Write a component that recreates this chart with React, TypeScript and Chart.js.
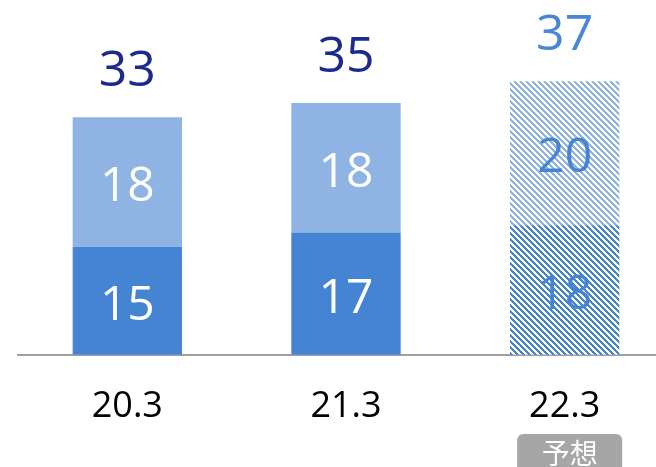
import React, { useEffect, useRef } from "react";
import { Chart, registerables } from "chart.js";

Chart.register(...registerables);

const categories = ["20.3", "21.3", "22.3"];
const lowerValues = [15, 17, 18];
const upperValues = [18, 18, 20];
const totals = [33, 35, 37];
const forecastIndex = 2;
const forecastTag = "予想";

const DARK = "#4584D3";
const LIGHT = "#8FB4E3";
const NAVY = "#1B2A8C";

function makeHatch(color: string): CanvasPattern | string {
  const c = document.createElement("canvas");
  const n = 6;
  c.width = n;
  c.height = n;
  const ctx = c.getContext("2d");
  if (!ctx) return color;
  ctx.fillStyle = "#ffffff";
  ctx.fillRect(0, 0, n, n);
  ctx.fillStyle = color;
  for (let y = 0; y < n; y++) {
    for (let x = 0; x < n; x++) {
      if ((((x - y) % n) + n) % n < 3) ctx.fillRect(x, y, 1, 1);
    }
  }
  const p = ctx.createPattern(c, "repeat");
  return p || color;
}

const FONT = "'Open Sans', 'Noto Sans', sans-serif";

export default function App() {
  const ref = useRef<HTMLCanvasElement | null>(null);

  useEffect(() => {
    if (!ref.current) return;
    const darkHatch = makeHatch(DARK);
    const lightHatch = makeHatch(LIGHT);

    const labelPlugin = {
      id: "valueLabels",
      afterDatasetsDraw(chart: any) {
        const ctx = chart.ctx;
        const xs = chart.scales.x;
        const ys = chart.scales.y;
        ctx.save();
        ctx.textAlign = "center";
        ctx.textBaseline = "alphabetic";
        const segLabel = (vals: number[], base: number[]) => {
          vals.forEach((v, i) => {
            const x = xs.getPixelForValue(i);
            const y0 = ys.getPixelForValue(base[i]);
            const y1 = ys.getPixelForValue(base[i] + v);
            const mid = (y0 + y1) / 2;
            ctx.font = `48px ${FONT}`;
            ctx.fillStyle = i === forecastIndex ? DARK : "#ffffff";
            ctx.fillText(String(v), x, mid + 19);
          });
        };
        segLabel(lowerValues, [0, 0, 0]);
        segLabel(upperValues, lowerValues);
        totals.forEach((t, i) => {
          const x = xs.getPixelForValue(i);
          const y = ys.getPixelForValue(lowerValues[i] + upperValues[i]);
          ctx.font = `50px ${FONT}`;
          ctx.fillStyle = i === forecastIndex ? "#4A86D6" : NAVY;
          ctx.fillText(String(t), x, y - 31);
        });
        // forecast tag
        const fx = xs.getPixelForValue(forecastIndex) + 5;
        const top = 434;
        const w = 105;
        const h = 50;
        ctx.fillStyle = "#A6A6A6";
        ctx.beginPath();
        (ctx as any).roundRect(fx - w / 2, top, w, h, 6);
        ctx.fill();
        ctx.fillStyle = "#ffffff";
        ctx.font = `28px 'Noto Sans CJK JP', sans-serif`;
        ctx.textBaseline = "middle";
        ctx.fillText(forecastTag, fx, top + 19);
        ctx.restore();
      },
    };

    const chart = new Chart(ref.current, {
      type: "bar",
      data: {
        labels: categories,
        datasets: [
          {
            label: "lower",
            data: lowerValues,
            backgroundColor: [DARK, DARK, darkHatch] as any,
            borderWidth: 0,
          },
          {
            label: "upper",
            data: upperValues,
            backgroundColor: [LIGHT, LIGHT, lightHatch] as any,
            borderWidth: 0,
          },
        ],
      },
      options: {
        animation: false,
        responsive: false,
        devicePixelRatio: 1,
        layout: { padding: { left: 18, right: 26, top: 31, bottom: 9 } },
        plugins: {
          legend: { display: false },
          tooltip: { enabled: false },
        },
        datasets: {
          bar: { barPercentage: 0.5, categoryPercentage: 1 },
        },
        scales: {
          x: {
            stacked: true,
            grid: { display: false, drawTicks: false },
            border: { display: true, color: "#A0A0A0", width: 2 },
            ticks: {
              color: "#000000",
              padding: 30,
              font: { family: FONT, size: 36 },
            },
          },
          y: {
            stacked: true,
            display: false,
            min: 0,
            max: 45,
          },
        },
      },
      plugins: [labelPlugin],
    });
    return () => chart.destroy();
  }, []);

  return (
    <div
      style={{
        position: "fixed",
        left: 0,
        top: 0,
        width: 656,
        height: 467,
        overflow: "hidden",
        background: "#ffffff",
      }}
    >
      <canvas
        ref={ref}
        width={700}
        height={467}
        style={{ display: "block", width: 700, height: 467 }}
      />
    </div>
  );
}
